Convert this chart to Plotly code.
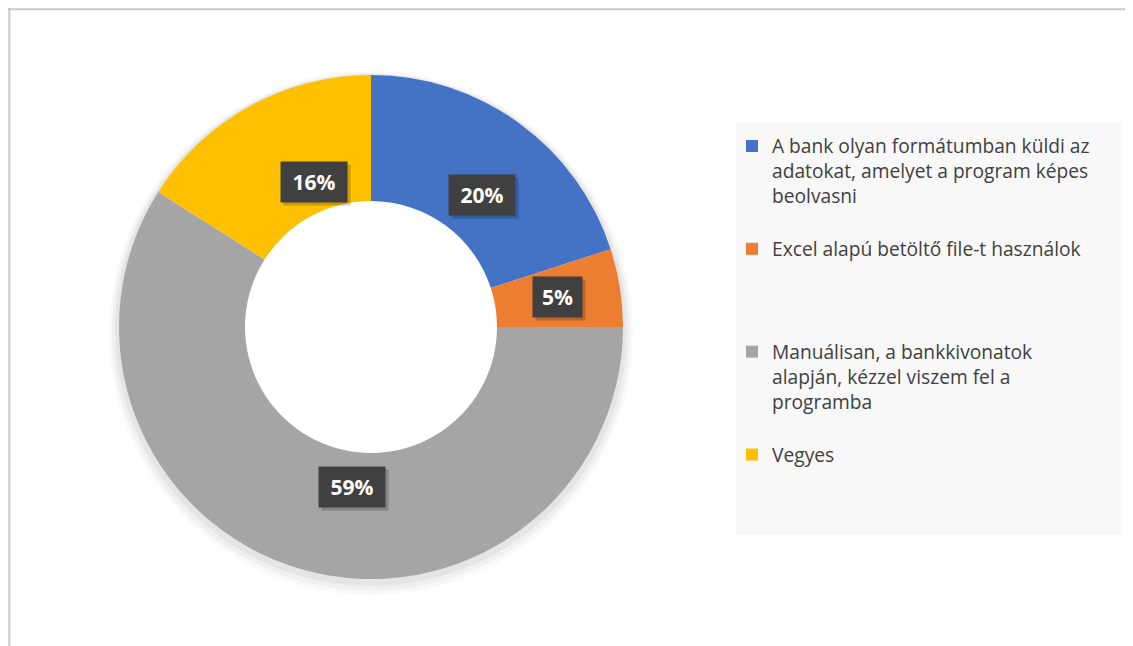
import math
import plotly.graph_objects as go

labels = [
    "A bank olyan formátumban küldi az<br>adatokat, amelyet a program képes<br>beolvasni<br> ",
    "Excel alapú betöltő file-t használok<br> <br> <br> ",
    "Manuálisan, a bankkivonatok<br>alapján, kézzel viszem fel a<br>programba<br> ",
    "Vegyes<br> <br> <br> ",
]
values = [20, 5, 59, 16]
colors = ["#4472C4", "#ED7D31", "#A5A5A5", "#FFC000"]

OFF = 8  # page body margin
W, H = 1133 - OFF, 646 - OFF
cx, cy, R = 371 - OFF, 327 - OFF, 252
hole = 0.5


def px_x(x):
    return (x - OFF) / W


def px_y(y):
    return 1 - (y - OFF) / H


fig = go.Figure()

# soft shadow around the donut
for dr, dy, a in [(10, 6, 0.025), (7, 5, 0.035), (4, 3, 0.045)]:
    r = R + dr
    fig.add_trace(go.Pie(
        values=[1], labels=["s"], hole=(R - 20) / r, sort=False, showlegend=False,
        marker=dict(colors=[f"rgba(0,0,0,{a})"], line=dict(width=0)),
        textinfo="none", hoverinfo="skip",
        domain=dict(x=[(cx - r) / W, (cx + r) / W],
                    y=[1 - (cy + dy + r) / H, 1 - (cy + dy - r) / H]),
    ))

fig.add_trace(go.Pie(
    labels=labels, values=values, hole=hole, sort=False, direction="clockwise",
    rotation=0, marker=dict(colors=colors, line=dict(width=0)),
    textinfo="none", hoverinfo="label+percent",
    domain=dict(x=[(cx - R) / W, (cx + R) / W], y=[1 - (cy + R) / H, 1 - (cy - R) / H]),
))

# data labels placed at slice mid-angles
total = sum(values)
cum = 0
rmid = R * (1 + hole) / 2
for v in values:
    ang = 2 * math.pi * (cum + v / 2) / total
    cum += v
    px = cx + rmid * math.sin(ang)
    py = cy - rmid * math.cos(ang)
    txt = f"{round(100 * v / total)}%"
    bw = 15 + 17 * len(txt)
    fig.add_annotation(x=(px + 3) / W, y=1 - (py + 3) / H, xref="paper", yref="paper",
                       text=" ", showarrow=False, width=bw, height=40,
                       font=dict(family="Open Sans", size=21, color="rgba(0,0,0,0)"),
                       bgcolor="rgba(0,0,0,0.2)", borderpad=0)
    fig.add_annotation(x=px / W, y=1 - py / H, xref="paper", yref="paper",
                       text=f"<b>{txt}</b>", showarrow=False, width=bw, height=40,
                       font=dict(family="Open Sans", size=21, color="white"),
                       bgcolor="#404040", borderpad=0)

# legend background box
fig.add_shape(type="rect", xref="paper", yref="paper",
              x0=px_x(736), x1=px_x(1121), y0=px_y(535), y1=px_y(122),
              fillcolor="#F8F8F8", line=dict(width=0), layer="below")
# chart frame (top and left edges only visible in the reference)
fig.add_shape(type="line", xref="paper", yref="paper",
              x0=0, x1=1, y0=0.998, y1=0.998,
              line=dict(color="#C8C8C8", width=2))
fig.add_shape(type="line", xref="paper", yref="paper",
              x0=0.0012, x1=0.0012, y0=0, y1=1,
              line=dict(color="#C8C8C8", width=2))

fig.update_layout(
    width=W, height=H, margin=dict(l=0, r=0, t=0, b=0),
    paper_bgcolor="white", plot_bgcolor="white",
    legend=dict(x=px_x(732), y=px_y(127), xanchor="left", yanchor="top",
                font=dict(family="Open Sans", size=19.2, color="#404040"),
                valign="top", itemwidth=30, tracegroupgap=0,
                bgcolor="rgba(0,0,0,0)"),
    showlegend=True,
)

fig.write_html("out.html")
